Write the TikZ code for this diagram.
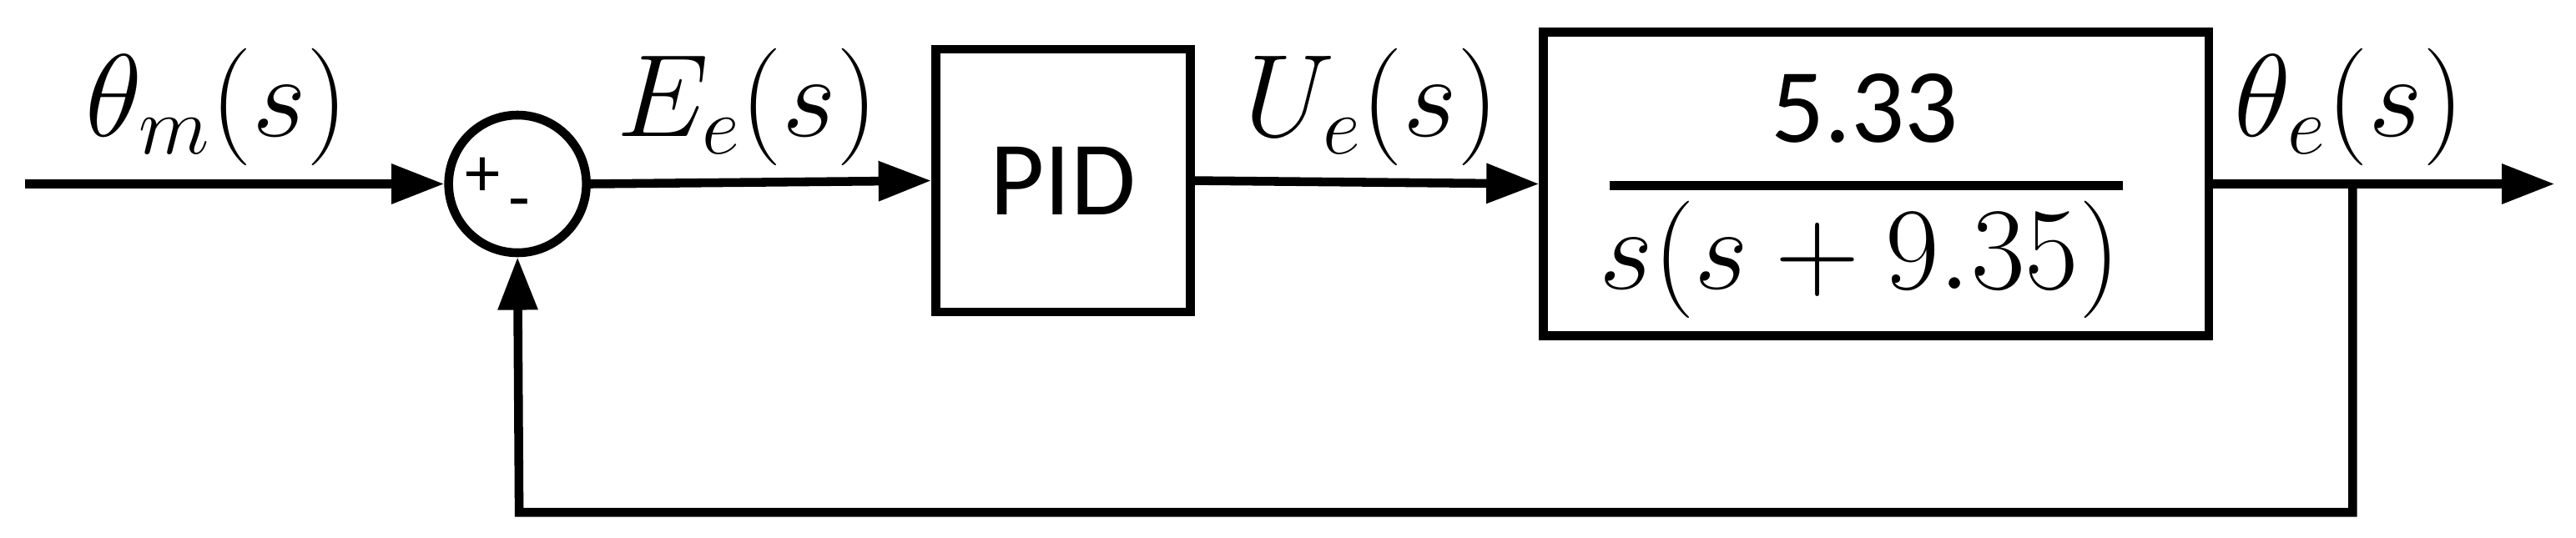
\RequirePackage{fix-cm}
\documentclass[tikz,border=0pt]{standalone}
\usepackage{fontspec}
\setmainfont{Carlito}
\usetikzlibrary{arrows.meta}
\begin{document}
\begin{tikzpicture}[x=0.01969cm,y=-0.01969cm,
  ln/.style={line width=3pt},
  arr/.style={ln,-{Triangle[length=18pt,width=13pt]}},
  blk/.style={draw,line width=3pt,inner sep=0},
  lbl/.style={font=\fontsize{40}{48}\selectfont},
  txt/.style={font=\fontsize{36}{44}\selectfont}]
\useasboundingbox (0,0) rectangle (1568,327.6);
\coordinate (in) at (15,112);
\node[draw,circle,line width=3pt,minimum size=1.65cm,inner sep=0] (sum) at (315,112) {};
\node[font=\fontsize{24}{28}\selectfont] (plus) at (294,108) {+};
\node[font=\fontsize{24}{28}\selectfont] (minus) at (316,128) {-};
\node[blk,minimum width=3.05cm,minimum height=3.15cm,txt] (pid) at (647,110) {PID};
\node[blk,minimum width=7.97cm,minimum height=3.64cm] (plant) at (1142,112) {};
\node[txt] (num) at (1135,66) {5.33};
\coordinate (fl) at (980,113); \coordinate (fr) at (1292,113);
\draw[ln] (fl) -- (fr);
\node[lbl] (den) at (1132,158) {$s(s+9.35)$};
\coordinate (out) at (1555,112);
\coordinate (br) at (1432,112);
\coordinate (b1) at (1432,312);
\coordinate (b2) at (316,312);
\draw[arr] (in) -- (sum.west);
\draw[arr] (sum.east) -- (pid.west);
\draw[arr] (pid.east) -- (plant.west);
\draw[arr] (plant.east) -- (out);
\draw[arr] (br) -- (b1) -- (b2) -- (sum.south);
\node[lbl] (tm) at (132,65) {$\theta_m(s)$};
\node[lbl] (ee) at (455,65) {$E_e(s)$};
\node[lbl] (ue) at (835,65) {$U_e(s)$};
\node[lbl] (te) at (1430,65) {$\theta_e(s)$};
\end{tikzpicture}
\end{document}
